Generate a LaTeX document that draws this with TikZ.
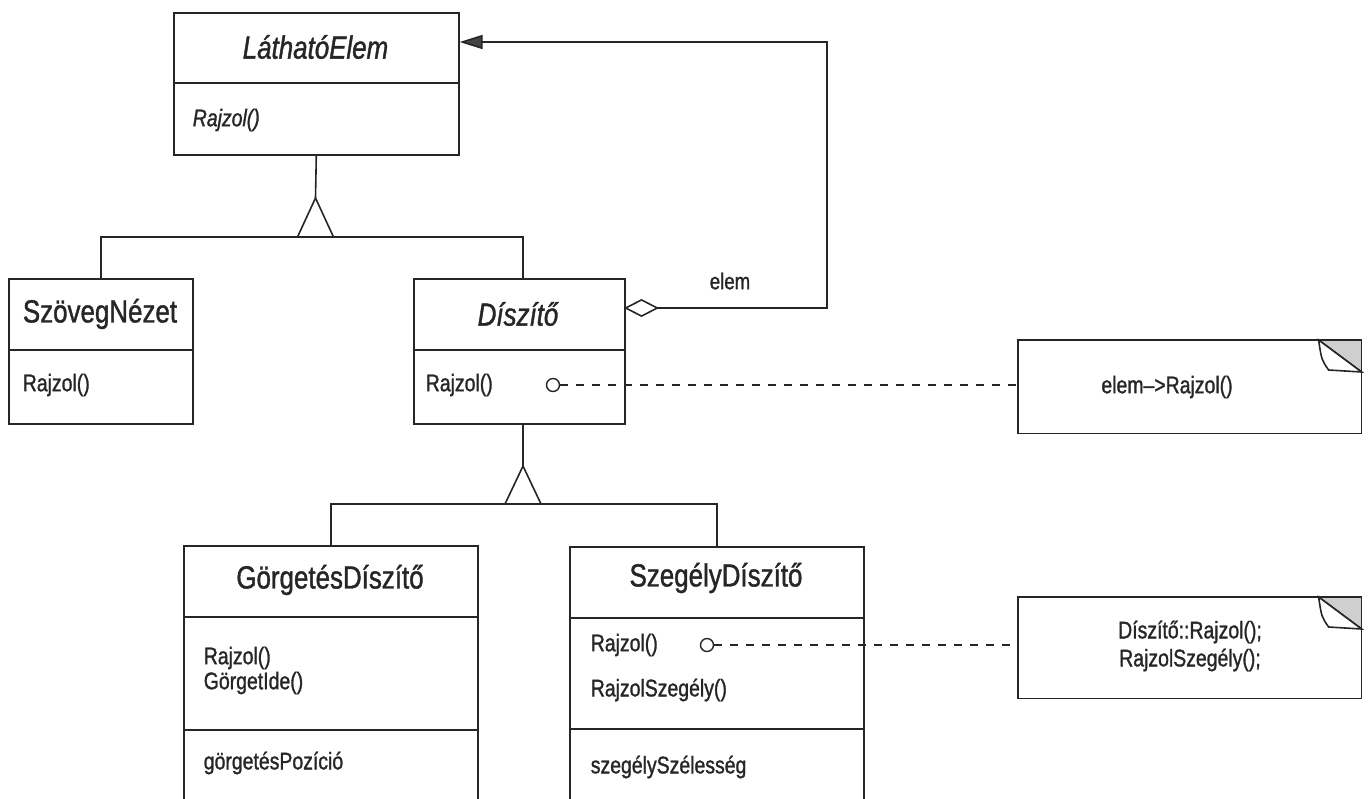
\documentclass[tikz,border=0pt]{standalone}
\usepackage{fontspec}
\setmainfont{Liberation Sans}[FakeStretch=0.81,FakeBold=1.2]
\usetikzlibrary{arrows.meta}
\definecolor{ink}{HTML}{262626}
\definecolor{foldgray}{HTML}{CFCFCF}
\definecolor{tipgray}{HTML}{444444}
\begin{document}
\begin{tikzpicture}[x=0.5pt,y=-0.5pt,color=ink,line width=0.8pt,
  classbox/.style={draw,fill=white,inner sep=0pt,anchor=north west},
  notebox/.style={inner sep=0pt,anchor=north west},
  ttl/.style={font=\fontsize{16}{19}\selectfont,inner sep=0pt},
  mem/.style={font=\fontsize{12}{12.5}\selectfont,anchor=west,inner sep=0pt},
  notetext/.style={font=\fontsize{12}{14}\selectfont,align=center,inner sep=0pt},
  lollipop/.style={circle,draw,fill=white,minimum size=6.5pt,inner sep=0pt,line width=0.7pt},
  notelink/.style={dash pattern=on 4pt off 4pt},
  gentri/.style={fill=white}]
\useasboundingbox (0,0) rectangle (1369,798);
\clip (0,0) rectangle (1369,798);
\fill[white] (0,0) rectangle (1369,798);

% --- LáthatóElem (abstract) ---
\node[classbox,minimum width=142.5pt,minimum height=71pt] (lat) at (173,12) {};
\draw ([yshift=-35.5pt]lat.north west) -- ([yshift=-35.5pt]lat.north east);
\node[ttl] (lat-name) at (315.5,47) {\itshape LáthatóElem};
\node[mem] (lat-op) at (192,120) {\itshape Rajzol()};

% --- SzövegNézet ---
\node[classbox,minimum width=92pt,minimum height=72.5pt] (szov) at (8,278) {};
\draw ([yshift=-36pt]szov.north west) -- ([yshift=-36pt]szov.north east);
\node[ttl] (szov-name) at (100,314) {SzövegNézet};
\node[mem] (szov-op) at (22,385) {Rajzol()};

% --- Díszítő (abstract) ---
\node[classbox,minimum width=105.5pt,minimum height=72.5pt] (disz) at (413,278) {};
\draw ([yshift=-36pt]disz.north west) -- ([yshift=-36pt]disz.north east);
\node[ttl] (disz-name) at (518,314) {\itshape Díszítő};
\node[mem] (disz-op) at (425,385) {Rajzol()};
\node[lollipop] (disz-dot) at (553,385) {};

% --- GörgetésDíszítő ---
\node[classbox,minimum width=147pt,minimum height=150pt] (gorg) at (183,545) {};
\draw ([yshift=-36pt]gorg.north west) -- ([yshift=-36pt]gorg.north east);
\draw ([yshift=-92.5pt]gorg.north west) -- ([yshift=-92.5pt]gorg.north east);
\node[ttl] (gorg-name) at (330,580) {GörgetésDíszítő};
\node[mem] (gorg-op1) at (203,658) {Rajzol()};
\node[mem] (gorg-op2) at (203,683) {GörgetIde()};
\node[mem] (gorg-attr) at (203,763) {görgetésPozíció};

% --- SzegélyDíszítő ---
\node[classbox,minimum width=147pt,minimum height=150pt] (szeg) at (569,546) {};
\draw ([yshift=-36pt]szeg.north west) -- ([yshift=-36pt]szeg.north east);
\draw ([yshift=-91.5pt]szeg.north west) -- ([yshift=-91.5pt]szeg.north east);
\node[ttl] (szeg-name) at (716,578) {SzegélyDíszítő};
\node[mem] (szeg-op1) at (590,645) {Rajzol()};
\node[mem] (szeg-op2) at (590,690) {RajzolSzegély()};
\node[mem] (szeg-attr) at (590,767) {szegélySzélesség};
\node[lollipop] (szeg-dot) at (707,645) {};

% --- notes with turned-down corner ---
\node[notebox,minimum width=171pt,minimum height=46pt] (n1) at (1018,340) {};
\node[notebox,minimum width=171pt,minimum height=50pt] (n2) at (1018,597) {};
\foreach \n in {n1,n2}{
  \fill[foldgray] ([xshift=-21.5pt]\n.north east) -- (\n.north east) -- ([yshift=-16pt]\n.north east) -- cycle;
  \draw (\n.south west) rectangle (\n.north east);
  \draw ([xshift=-21.5pt]\n.north east) -- ([yshift=-16pt]\n.north east);
  \draw[fill=white] ([xshift=-21.5pt]\n.north east)
     .. controls ([xshift=-20pt,yshift=-10pt]\n.north east) .. ([xshift=-16.5pt,yshift=-15pt]\n.north east)
     -- ([yshift=-16pt]\n.north east) -- cycle;
}
\node[notetext] (n1-text) at (1167,387) {elem–>Rajzol()};
\node[notetext] (n2-text) at (1190,646) {Díszítő::Rajzol();\\RajzolSzegély();};

% --- generalisation: SzövegNézet, Díszítő -> LáthatóElem ---
\coordinate (g1) at (315.5,198);
\coordinate (g1b) at (315.5,237);
\coordinate (disz-top) at (523,278);
\draw (lat.south) -- (g1);
\draw[gentri] (g1) -- ++(-18,39) -- ++(36,0) -- cycle;
\draw (szov.north) |- (g1b) -| (disz-top);

% --- generalisation: GörgetésDíszítő, SzegélyDíszítő -> Díszítő ---
\coordinate (disz-bot) at (523,423);
\coordinate (g2) at (523,466);
\coordinate (g2b) at (523,504);
\draw (disz-bot) -- (g2);
\draw[gentri] (g2) -- ++(-18,38) -- ++(36,0) -- cycle;
\draw (gorg.north) |- (g2b) -| (szeg.north);

% --- aggregation: Díszítő <>--elem--> LáthatóElem ---
\coordinate (agg-start) at (624,308);
\coordinate (agg-corner) at (827,42);
\draw[{Diamond[open,length=17.5pt,width=9pt]}-{Triangle[length=11.5pt,width=7pt,fill=tipgray]}]
  (agg-start) -| (agg-corner) -- (lat.east |- agg-corner);
\node[font=\fontsize{11.5}{13}\selectfont,inner sep=0pt] (agg-label) at (730,281) {elem};

% --- links from operations to their notes ---
\draw[notelink] (disz-dot) -- (n1.west |- disz-dot);
\draw[notelink] (szeg-dot) -- (n2.west |- szeg-dot);
\end{tikzpicture}
\end{document}
